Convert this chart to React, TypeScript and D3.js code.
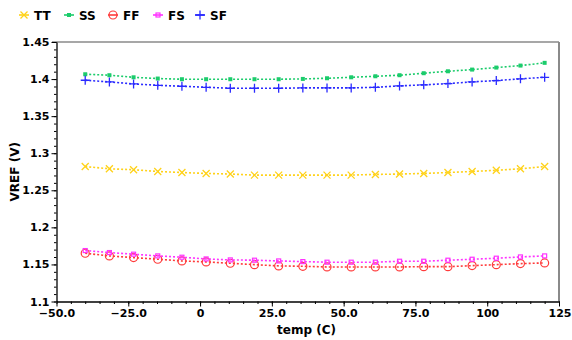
import React, { useEffect, useRef } from "react";
import * as d3 from "d3";

const temps = [-40, -31.58, -23.16, -14.74, -6.32, 2.11, 10.53, 18.95, 27.37, 35.79, 44.21, 52.63, 61.05, 69.47, 77.89, 86.32, 94.74, 103.16, 111.58, 120];

const TT = [1.282, 1.279, 1.2777, 1.2754, 1.274, 1.2727, 1.2719, 1.2705, 1.2705, 1.2705, 1.2705, 1.2705, 1.2714, 1.2719, 1.2727, 1.274, 1.2754, 1.277, 1.279, 1.282];
const SS = [1.4065, 1.4052, 1.4024, 1.4007, 1.3998, 1.3998, 1.3998, 1.3998, 1.3998, 1.4002, 1.4011, 1.4024, 1.4038, 1.4052, 1.4079, 1.4105, 1.4128, 1.4155, 1.4182, 1.4219];
const FF = [1.1651, 1.1615, 1.1592, 1.157, 1.1547, 1.1534, 1.1516, 1.1497, 1.148, 1.1475, 1.1466, 1.1466, 1.1466, 1.1466, 1.147, 1.147, 1.1484, 1.1497, 1.1511, 1.152];
const FS = [1.1687, 1.166, 1.1638, 1.1615, 1.1597, 1.1574, 1.1561, 1.1557, 1.1547, 1.1538, 1.153, 1.153, 1.153, 1.1543, 1.1543, 1.1557, 1.157, 1.1584, 1.1601, 1.1615];
const SF = [1.3984, 1.3962, 1.3935, 1.3916, 1.3903, 1.3889, 1.3876, 1.3876, 1.3876, 1.3881, 1.3881, 1.3881, 1.3889, 1.3908, 1.3922, 1.3939, 1.3962, 1.398, 1.4003, 1.4024];

const seriesNames = ["TT", "SS", "FF", "FS", "SF"];
const seriesValues = [TT, SS, FF, FS, SF];
const seriesColors = ["#ffd21a", "#1ccc6c", "#ff3b3b", "#ff33ff", "#2a2aff"];
const seriesMarkers = ["x", "fsquare", "circle", "hsquare", "plus"];

const xTicks = [-50, -25, 0, 25, 50, 75, 100, 125];
const xTickLabels = ["\u221250.0", "\u221225.0", "0", "25.0", "50.0", "75.0", "100", "125"];
const yTicks = [1.1, 1.15, 1.2, 1.25, 1.3, 1.35, 1.4, 1.45];
const yTickLabels = ["1.1", "1.15", "1.2", "1.25", "1.3", "1.35", "1.4", "1.45"];

const W = 572, H = 340;
const M = { left: 56.5, right: 559, top: 42, bottom: 301.5 };
const FONT = "DejaVu Sans, sans-serif";

function drawMarker(g: any, type: string, cx: number, cy: number, color: string) {
  if (type === "x") {
    const s = 3.5;
    g.append("path").attr("d", `M${cx - s},${cy - s}L${cx + s},${cy + s}M${cx - s},${cy + s}L${cx + s},${cy - s}`)
      .attr("stroke", color).attr("stroke-width", 1.3).attr("fill", "none");
  } else if (type === "fsquare") {
    g.append("rect").attr("x", cx - 2).attr("y", cy - 2).attr("width", 4).attr("height", 4).attr("fill", color);
  } else if (type === "circle") {
    g.append("circle").attr("cx", cx).attr("cy", cy).attr("r", 4).attr("fill", "none")
      .attr("stroke", color).attr("stroke-width", 1.2);
  } else if (type === "hsquare") {
    g.append("rect").attr("x", cx - 2).attr("y", cy - 2).attr("width", 4).attr("height", 4).attr("fill", "none")
      .attr("stroke", color).attr("stroke-width", 1.2);
  } else if (type === "plus") {
    const s = 4.5;
    g.append("path").attr("d", `M${cx - s},${cy}L${cx + s},${cy}M${cx},${cy - s}L${cx},${cy + s}`)
      .attr("stroke", color).attr("stroke-width", 1.3).attr("fill", "none");
  }
}

export default function App() {
  const ref = useRef<SVGSVGElement>(null);
  useEffect(() => {
    const svg = d3.select(ref.current);
    svg.selectAll("*").remove();
    const x = d3.scaleLinear().domain([-50, 125]).range([M.left, M.right]);
    const y = d3.scaleLinear().domain([1.1, 1.45]).range([M.bottom, M.top]);

    // frame top/right
    svg.append("line").attr("x1", 52).attr("x2", M.right).attr("y1", M.top).attr("y2", M.top)
      .attr("stroke", "#8a8a8a").attr("stroke-width", 1.5);
    svg.append("line").attr("x1", M.right).attr("x2", M.right).attr("y1", M.top).attr("y2", M.bottom)
      .attr("stroke", "#8a8a8a").attr("stroke-width", 2);

    // minor ticks
    const yMinor = d3.range(0, 36).map((i) => 1.1 + i * 0.01);
    const xMinor = d3.range(0, 36).map((i) => -50 + i * 5);
    svg.append("g").attr("transform", `translate(${M.left},0)`)
      .call(d3.axisLeft(y).tickValues(yMinor).tickSize(2.5).tickSizeOuter(0).tickFormat(() => ""))
      .call((g: any) => g.select(".domain").remove());
    svg.append("g").attr("transform", `translate(0,${M.bottom})`)
      .call(d3.axisBottom(x).tickValues(xMinor).tickSize(2.5).tickSizeOuter(0).tickFormat(() => ""))
      .call((g: any) => g.select(".domain").remove());

    // major axes
    const ya = svg.append("g").attr("transform", `translate(${M.left},0)`)
      .call(d3.axisLeft(y).tickValues(yTicks).tickSize(5).tickSizeOuter(0).tickPadding(2)
        .tickFormat((d: any, i: number) => yTickLabels[i]));
    ya.selectAll("text").attr("font-family", FONT).attr("font-size", 11).attr("font-weight", "bold").attr("fill", "#000");
    ya.select(".domain").attr("stroke-width", 1.3);

    const xa = svg.append("g").attr("transform", `translate(0,${M.bottom})`)
      .call(d3.axisBottom(x).tickValues(xTicks).tickSize(5).tickSizeOuter(0).tickPadding(3)
        .tickFormat((d: any, i: number) => xTickLabels[i]));
    xa.selectAll("text").attr("font-family", FONT).attr("font-size", 11).attr("font-weight", "bold").attr("fill", "#000");
    xa.selectAll("text").filter((d: any) => d === 125).attr("text-anchor", "end").attr("dx", 12);
    xa.select(".domain").attr("stroke-width", 1.3);

    // titles
    svg.append("text").attr("x", 306.5).attr("y", 334).attr("text-anchor", "middle")
      .attr("font-family", FONT).attr("font-size", 12).attr("font-weight", "bold").text("temp (C)");
    svg.append("text").attr("transform", `translate(19,${(M.top + M.bottom) / 2}) rotate(-90)`)
      .attr("text-anchor", "middle").attr("font-family", FONT).attr("font-size", 12).attr("font-weight", "bold")
      .text("VREF (V)");

    // series
    const line = d3.line<number>().x((d, i) => x(temps[i])).y((d) => y(d));
    seriesValues.forEach((vals, si) => {
      const color = seriesColors[si];
      svg.append("path").attr("d", line(vals)).attr("fill", "none").attr("stroke", color)
        .attr("stroke-width", 1.6).attr("stroke-dasharray", "2,2");
      const g = svg.append("g");
      vals.forEach((v, i) => drawMarker(g, seriesMarkers[si], x(temps[i]), y(v), color));
    });

    // legend
    const legX = [24, 69, 113, 158, 200];
    seriesNames.forEach((name, si) => {
      const cx = legX[si];
      const color = seriesColors[si];
      const g = svg.append("g");
      g.append("line").attr("x1", cx - 5).attr("x2", cx + 5).attr("y1", 15).attr("y2", 15)
        .attr("stroke", color).attr("stroke-width", 1.6);
      drawMarker(g, seriesMarkers[si], cx, 15, color);
      g.append("text").attr("x", cx + 10).attr("y", 19.5).attr("font-family", FONT).attr("font-size", 12)
        .attr("font-weight", "bold").text(name);
    });
  }, []);
  return (
    <svg ref={ref} width={W} height={H} style={{ position: "absolute", left: 0, top: 0, background: "#fff" }} />
  );
}
